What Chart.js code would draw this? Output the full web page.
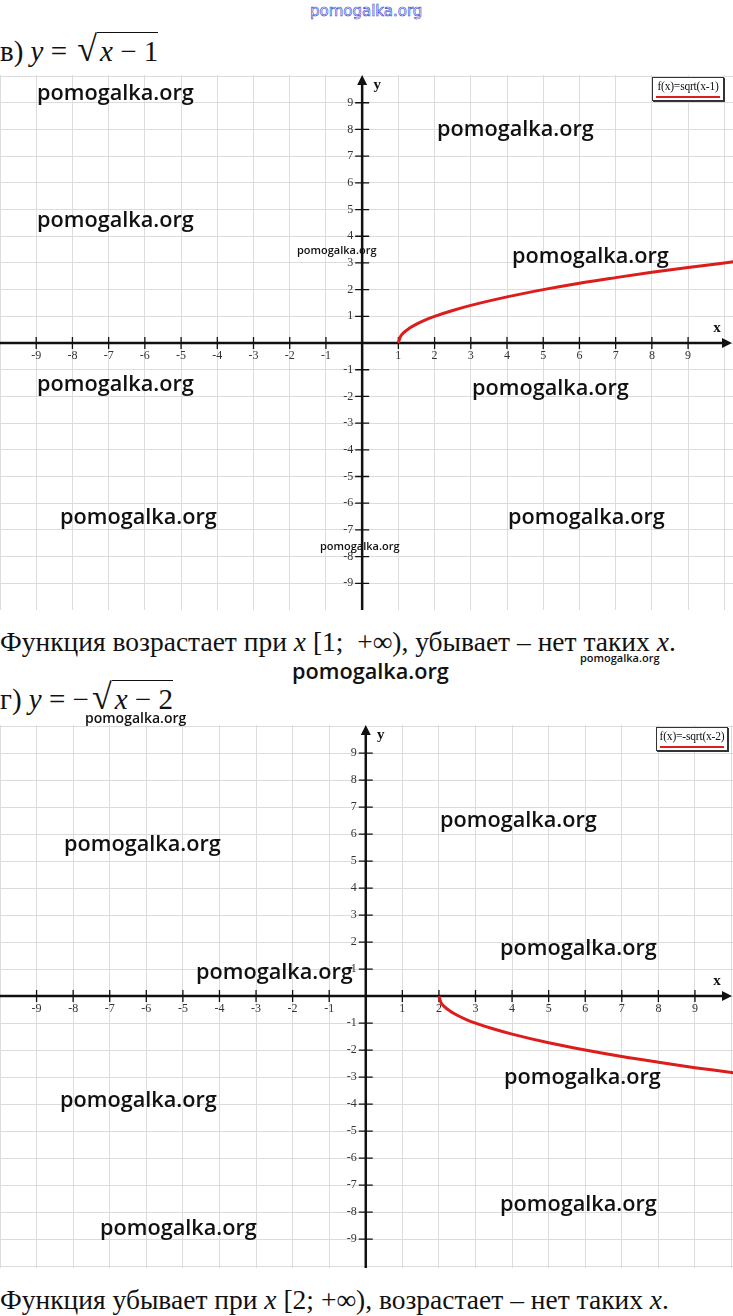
<!DOCTYPE html>
<html>
<head>
<meta charset="utf-8">
<script src="https://cdn.jsdelivr.net/npm/chart.js@4.4.0/dist/chart.umd.min.js"></script>
<style>
  html, body { margin: 0; padding: 0; background: #fff; }
  body { width: 733px; height: 1316px; position: relative; overflow: hidden; font-family: "Liberation Serif", serif; color: #111; }
  .abs { position: absolute; white-space: nowrap; }
  canvas.plot { position: absolute; left: 0; }
  .wm { position: absolute; white-space: nowrap; font-family: "Open Sans", sans-serif; font-weight: 600; color: #111; line-height: 1; }
  .wm.big { font-size: 21.7px; }
  .wm.mid { font-size: 14px; }
  .wm.small { font-size: 11px; }
  .top-wm { position: absolute; left: 310px; top: 4px; font-family: "DejaVu Sans", sans-serif; font-size: 15px; color: #fff; -webkit-text-stroke: 0.6px #2a3fd0; line-height: 1; }
  .formula { font-size: 29px; line-height: 1; }
  .formula i { font-style: italic; }
  .rad { border-top: 1.4px solid #111; padding-top: 2px; padding-left: 3px; }
  .sq { font-size: 36px; margin-left: 3px; }
  .note { font-size: 27.5px; line-height: 1; }
  .legend { position: absolute; width: 70px; height: 22px; border: 1px solid #333; box-shadow: 1px 1px 0 #333; background: #fff; font-size: 11.5px; text-align: center; line-height: 1; }
  .legend span { display: block; margin-top: 3px; letter-spacing: -0.2px; }
  .legend b { display: block; height: 2px; background: #d82020; margin: 3px 3px 0 3px; }
</style>
</head>
<body>

<div class="top-wm">pomogalka.org</div>

<div class="abs formula" style="left:0; top:31px;">в) <i>y</i> = <span class="sq">√</span><span class="rad"><i>x</i> − 1</span></div>

<canvas id="chart1" class="plot" width="733" height="535" style="top:75px;"></canvas>
<div class="legend" style="left:652px; top:77px;"><span>f(x)=sqrt(x-1)</span><b></b></div>

<div class="abs note" style="left:0; top:628px;">Функция возрастает при <i>x</i> [1;&nbsp; +∞), убывает – нет таких <i>x</i>.</div>

<div class="abs formula" style="left:0; top:679px;">г) <i>y</i> = −<span class="sq">√</span><span class="rad"><i>x</i> − 2</span></div>

<canvas id="chart2" class="plot" width="733" height="543" style="top:725px;"></canvas>
<div class="legend" style="left:656px; top:727px;"><span>f(x)=-sqrt(x-2)</span><b></b></div>

<div class="abs note" style="left:0; top:1286px;">Функция убывает при <i>x</i> [2; +∞), возрастает – нет таких <i>x</i>.</div>

<div class="wm big" style="left:37px; top:81px;">pomogalka.org</div>
<div class="wm big" style="left:437px; top:117px;">pomogalka.org</div>
<div class="wm big" style="left:37px; top:208px;">pomogalka.org</div>
<div class="wm small" style="left:297px; top:244px;">pomogalka.org</div>
<div class="wm big" style="left:512px; top:244px;">pomogalka.org</div>
<div class="wm big" style="left:37px; top:372px;">pomogalka.org</div>
<div class="wm big" style="left:472px; top:376px;">pomogalka.org</div>
<div class="wm big" style="left:60px; top:505px;">pomogalka.org</div>
<div class="wm big" style="left:508px; top:505px;">pomogalka.org</div>
<div class="wm small" style="left:320px; top:540px;">pomogalka.org</div>
<div class="wm small" style="left:580px; top:652px;">pomogalka.org</div>
<div class="wm big" style="left:292px; top:660px;">pomogalka.org</div>
<div class="wm mid" style="left:85px; top:711px;">pomogalka.org</div>
<div class="wm big" style="left:440px; top:808px;">pomogalka.org</div>
<div class="wm big" style="left:64px; top:832px;">pomogalka.org</div>
<div class="wm big" style="left:500px; top:936px;">pomogalka.org</div>
<div class="wm big" style="left:196px; top:960px;">pomogalka.org</div>
<div class="wm big" style="left:504px; top:1065px;">pomogalka.org</div>
<div class="wm big" style="left:60px; top:1088px;">pomogalka.org</div>
<div class="wm big" style="left:500px; top:1192px;">pomogalka.org</div>
<div class="wm big" style="left:100px; top:1216px;">pomogalka.org</div>

<script>
// integer grid positions (labels shown for -9..9, except 0)
const gridTicks = [-10, -9, -8, -7, -6, -5, -4, -3, -2, -1, 0, 1, 2, 3, 4, 5, 6, 7, 8, 9, 10];

// y = sqrt(x - 1)
const curve1X = [1, 1.05, 1.15, 1.3, 1.5, 1.75, 2, 2.5, 3, 4, 5, 6, 7, 8, 9, 10, 10.3];
const curve1Y = [0, 0.22, 0.39, 0.55, 0.71, 0.87, 1, 1.22, 1.41, 1.73, 2, 2.24, 2.45, 2.65, 2.83, 3, 3.05];

// y = -sqrt(x - 2)
const curve2X = [2, 2.05, 2.15, 2.3, 2.5, 2.75, 3, 3.5, 4, 5, 6, 7, 8, 9, 10, 10.1];
const curve2Y = [0, -0.22, -0.39, -0.55, -0.71, -0.87, -1, -1.22, -1.41, -1.73, -2, -2.24, -2.45, -2.65, -2.83, -2.85];

const axesPlugin = {
  id: 'axesArrows',
  beforeDatasetsDraw(chart) {
    const { ctx, chartArea: a, scales: { x, y } } = chart;
    const x0 = x.getPixelForValue(0);
    const y0 = y.getPixelForValue(0);
    ctx.save();
    ctx.strokeStyle = '#111';
    ctx.fillStyle = '#111';
    ctx.lineWidth = 2.5;
    ctx.beginPath();
    ctx.moveTo(a.left, y0); ctx.lineTo(a.right - 8, y0);
    ctx.moveTo(x0, a.bottom); ctx.lineTo(x0, a.top + 8);
    ctx.stroke();
    // arrow heads
    ctx.beginPath();
    ctx.moveTo(a.right - 1, y0); ctx.lineTo(a.right - 11, y0 - 5); ctx.lineTo(a.right - 11, y0 + 5); ctx.closePath();
    ctx.moveTo(x0, a.top); ctx.lineTo(x0 - 5, a.top + 10); ctx.lineTo(x0 + 5, a.top + 10); ctx.closePath();
    ctx.fill();
    // tick marks
    ctx.lineWidth = 1.3;
    ctx.beginPath();
    gridTicks.forEach(v => {
      if (v === 0 || Math.abs(v) > 9) return;
      const px = x.getPixelForValue(v);
      ctx.moveTo(px, y0 - 6); ctx.lineTo(px, y0 + 6);
      const py = y.getPixelForValue(v);
      ctx.moveTo(x0 - 7, py); ctx.lineTo(x0 + 7, py);
    });
    ctx.stroke();
    // axis names
    ctx.font = 'bold 15px "Liberation Serif"';
    ctx.textBaseline = 'middle';
    ctx.textAlign = 'center';
    ctx.fillText('y', x0 + 15, a.top + 10);
    ctx.fillText('x', a.right - 16, y0 - 15);
    ctx.restore();
  }
};

// keep the plot area at the canvas edges (no room reserved for tick labels)
function noPadding(s) {
  s.paddingLeft = 0; s.paddingRight = 0; s.paddingTop = 0; s.paddingBottom = 0;
}

const hideLabel = v => v === 0 || Math.abs(v) > 9;

function makeChart(id, xs, ys, range) {
  const points = xs.map((v, i) => ({ x: v, y: ys[i] }));
  const tickCfg = {
    autoSkip: false,
    maxRotation: 0,
    color: '#333',
    font: { family: 'Liberation Serif', size: 12 }
  };
  return new Chart(document.getElementById(id), {
    type: 'scatter',
    data: {
      datasets: [{
        data: points,
        showLine: true,
        borderColor: '#dd1c1c',
        borderWidth: 3,
        pointRadius: 0,
        cubicInterpolationMode: 'monotone'
      }]
    },
    options: {
      responsive: false,
      animation: false,
      layout: { padding: 0 },
      plugins: { legend: { display: false }, tooltip: { enabled: false } },
      scales: {
        x: {
          type: 'linear',
          min: range.xMin, max: range.xMax,
          position: { y: 0 },
          afterBuildTicks: s => { s.ticks = gridTicks.map(v => ({ value: v })); },
          afterFit: noPadding,
          grid: { color: '#dcdcdc', lineWidth: 1, drawTicks: false },
          border: { display: false },
          ticks: { ...tickCfg, padding: 6, callback: v => hideLabel(v) ? '' : String(v) }
        },
        y: {
          type: 'linear',
          min: range.yMin, max: range.yMax,
          position: { x: 0 },
          afterBuildTicks: s => { s.ticks = gridTicks.map(v => ({ value: v })); },
          afterFit: noPadding,
          grid: { color: '#dcdcdc', lineWidth: 1, drawTicks: false },
          border: { display: false },
          // labels are right-aligned on the axis line, trailing spaces push them left of it
          ticks: { ...tickCfg, callback: v => hideLabel(v) ? '' : v + '\u2002 ' }
        }
      }
    },
    plugins: [axesPlugin]
  });
}

makeChart('chart1', curve1X, curve1Y, { xMin: -10.0, xMax: 10.24, yMin: -10.0, yMax: 10.04 });
makeChart('chart2', curve2X, curve2Y, { xMin: -10.0, xMax: 10.04, yMin: -10.07, yMax: 10.04 });
</script>
</body>
</html>
